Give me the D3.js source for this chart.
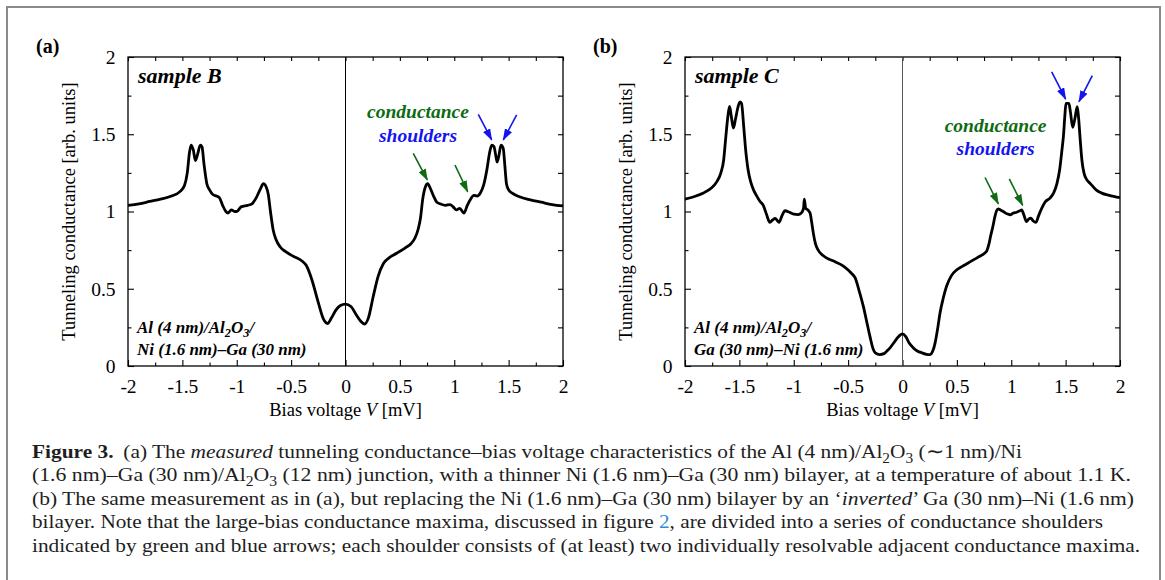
<!DOCTYPE html>
<html>
<head>
<meta charset="utf-8">
<script src="https://cdn.jsdelivr.net/npm/d3@7"></script>
<style>
  body { margin: 0; background: #fff; }
  svg text { font-family: "Liberation Serif", "Times New Roman", serif; }
</style>
</head>
<body>
<svg id="fig" width="1165" height="580"></svg>
<script>
// ---- data ----
const voltsB = [-2.00,-1.90,-1.80,-1.70,-1.60,-1.52,-1.48,-1.455,-1.435,-1.42,-1.40,-1.38,-1.36,-1.335,-1.32,-1.30,-1.275,-1.25,-1.22,-1.185,-1.16,-1.13,-1.10,-1.08,-1.05,-1.02,-1.00,-0.96,-0.90,-0.86,-0.82,-0.78,-0.755,-0.73,-0.71,-0.69,-0.665,-0.64,-0.60,-0.55,-0.48,-0.40,-0.36,-0.31,-0.25,-0.20,-0.165,-0.13,-0.09,-0.05,0.00,0.05,0.10,0.14,0.175,0.21,0.255,0.30,0.35,0.40,0.47,0.55,0.60,0.64,0.67,0.69,0.71,0.735,0.755,0.78,0.81,0.84,0.87,0.92,0.96,0.99,1.02,1.05,1.09,1.12,1.15,1.18,1.21,1.24,1.27,1.30,1.325,1.345,1.365,1.385,1.395,1.41,1.43,1.45,1.465,1.48,1.50,1.53,1.60,1.70,1.80,1.90,2.00];
const condB  = [1.04,1.05,1.065,1.08,1.10,1.13,1.17,1.25,1.38,1.43,1.40,1.33,1.37,1.43,1.42,1.30,1.18,1.14,1.11,1.10,1.09,1.04,1.00,0.99,1.01,1.00,1.00,1.03,1.04,1.05,1.09,1.15,1.18,1.16,1.11,1.00,0.88,0.82,0.77,0.74,0.71,0.68,0.65,0.56,0.41,0.30,0.275,0.31,0.36,0.39,0.40,0.385,0.33,0.29,0.272,0.31,0.45,0.58,0.665,0.70,0.73,0.765,0.79,0.83,0.89,0.96,1.08,1.16,1.18,1.15,1.10,1.06,1.05,1.04,1.045,1.03,1.01,1.02,0.99,1.04,1.08,1.105,1.10,1.12,1.17,1.27,1.38,1.43,1.42,1.35,1.32,1.36,1.43,1.41,1.30,1.18,1.14,1.12,1.095,1.075,1.06,1.045,1.036];

const voltsC = [-2.00,-1.90,-1.83,-1.76,-1.71,-1.67,-1.645,-1.625,-1.605,-1.59,-1.575,-1.555,-1.535,-1.515,-1.495,-1.48,-1.46,-1.445,-1.42,-1.395,-1.37,-1.34,-1.31,-1.28,-1.25,-1.22,-1.195,-1.17,-1.15,-1.135,-1.11,-1.08,-1.04,-1.00,-0.96,-0.93,-0.91,-0.903,-0.89,-0.87,-0.85,-0.835,-0.82,-0.80,-0.775,-0.74,-0.70,-0.62,-0.54,-0.47,-0.435,-0.40,-0.36,-0.33,-0.30,-0.27,-0.25,-0.21,-0.17,-0.145,-0.115,-0.07,-0.03,0.00,0.03,0.06,0.10,0.14,0.18,0.22,0.253,0.28,0.30,0.325,0.345,0.375,0.405,0.45,0.50,0.55,0.605,0.66,0.71,0.755,0.775,0.795,0.81,0.83,0.85,0.865,0.88,0.90,0.93,0.96,0.99,1.02,1.05,1.08,1.096,1.115,1.14,1.16,1.18,1.20,1.228,1.25,1.28,1.31,1.356,1.39,1.42,1.445,1.465,1.48,1.493,1.503,1.53,1.545,1.565,1.585,1.607,1.62,1.632,1.65,1.669,1.70,1.724,1.78,1.832,1.90,2.00];
const condC  = [1.08,1.10,1.12,1.15,1.19,1.25,1.33,1.48,1.62,1.68,1.62,1.54,1.60,1.67,1.71,1.70,1.55,1.42,1.27,1.19,1.14,1.10,1.065,1.04,0.98,0.93,0.945,0.955,0.94,0.93,0.97,1.005,0.995,0.983,0.98,0.99,1.02,1.08,1.02,1.01,0.99,0.93,0.86,0.79,0.75,0.72,0.70,0.675,0.645,0.60,0.57,0.49,0.386,0.29,0.193,0.11,0.085,0.074,0.08,0.096,0.117,0.16,0.195,0.208,0.19,0.15,0.117,0.095,0.085,0.076,0.074,0.10,0.15,0.25,0.343,0.44,0.516,0.585,0.623,0.645,0.667,0.69,0.71,0.73,0.745,0.79,0.84,0.90,0.968,1.005,1.017,1.01,0.998,0.985,0.979,0.99,0.995,1.005,1.01,0.98,0.935,0.95,0.957,0.94,0.93,0.97,1.02,1.06,1.087,1.12,1.18,1.27,1.39,1.49,1.62,1.70,1.70,1.64,1.545,1.60,1.678,1.60,1.485,1.33,1.248,1.20,1.183,1.14,1.119,1.105,1.09];

const xTicks = [-2, -1.5, -1, -0.5, 0, 0.5, 1, 1.5, 2];
const xMinor = [-1.75, -1.25, -0.75, -0.25, 0.25, 0.75, 1.25, 1.75];
const yTicks = [0, 0.5, 1, 1.5, 2];
const yMinor = [0.25, 0.75, 1.25, 1.75];

// arrows (bias, conductance) : from -> to
const arrowsB = [
  { from: [0.623, 1.377], to: [0.752, 1.204], c: "green" },
  { from: [1.007, 1.300], to: [1.124, 1.128], c: "green" },
  { from: [1.221, 1.629], to: [1.344, 1.463], c: "blue" },
  { from: [1.574, 1.625], to: [1.451, 1.463], c: "blue" }
];
const arrowsC = [
  { from: [0.759, 1.220], to: [0.881, 1.050], c: "green" },
  { from: [0.982, 1.211], to: [1.105, 1.039], c: "green" },
  { from: [1.372, 1.904], to: [1.500, 1.728], c: "blue" },
  { from: [1.745, 1.879], to: [1.623, 1.711], c: "blue" }
];

const green = "#0e6b12", blue = "#1414f0";

const svg = d3.select("#fig");

// outer frame
svg.append("rect")
  .attr("x", 7).attr("y", 7).attr("width", 1153).attr("height", 640)
  .attr("fill", "none").attr("stroke", "#8a8a8a").attr("stroke-width", 2);

const defs = svg.append("defs");
[["green", green], ["blue", blue]].forEach(([id, col]) => {
  defs.append("marker")
    .attr("id", "head-" + id)
    .attr("markerUnits", "userSpaceOnUse")
    .attr("viewBox", "0 0 12 8")
    .attr("refX", 11).attr("refY", 4)
    .attr("markerWidth", 12).attr("markerHeight", 8)
    .attr("orient", "auto")
    .append("path").attr("d", "M0,0 L12,4 L0,8 z").attr("fill", col);
});

// write segments [text, style] into a text element, handling subscript shifts
function writeRich(sel, segs, fs) {
  let shift = 0;
  segs.forEach(([t, st, dx]) => {
    const ts = sel.append("tspan").text(t);
    let want = st === "sub" ? fs * 0.25 : 0;
    if (want !== shift) { ts.attr("dy", want - shift); shift = want; }
    if (dx) ts.attr("dx", dx);
    if (st === "sub") ts.attr("font-size", fs * 0.72);
    if (st === "b") ts.attr("font-weight", "bold");
    if (st === "i") ts.attr("font-style", "italic");
    if (st === "link") ts.attr("fill", "#2b8fd8");
  });
}

const panels = [
  { tag: "(a)", sample: "sample B", left: 128, volts: voltsB, cond: condB, arrows: arrowsB,
    words: { x: 0.667, y1: 1.603, y2: 1.452 }, zero: "#000",
    layer: [[["Al (4 nm)/Al"], ["2", "sub"], ["O"], ["3", "sub"], ["/"]],
            [["Ni (1.6 nm)–Ga (30 nm)"]]] },
  { tag: "(b)", sample: "sample C", left: 685, volts: voltsC, cond: condC, arrows: arrowsC,
    words: { x: 0.856, y1: 1.517, y2: 1.366 }, zero: "#555",
    layer: [[["Al (4 nm)/Al"], ["2", "sub"], ["O"], ["3", "sub"], ["/"]],
            [["Ga (30 nm)–Ni (1.6 nm)"]]] }
];

panels.forEach(p => {
  const x = d3.scaleLinear().domain([-2, 2]).range([p.left, p.left + 435]);
  const y = d3.scaleLinear().domain([0, 2]).range([366, 57]);
  const g = svg.append("g");
  const fmt = d => String(d);

  const styleAxis = a => {
    a.select(".domain").remove();
    a.selectAll("line").attr("stroke", "#000").attr("stroke-width", 1.1);
    a.selectAll("text").attr("font-family", "Liberation Serif").attr("font-size", 19.5).attr("fill", "#000");
  };

  g.append("g").attr("transform", "translate(0,366)")
    .call(d3.axisBottom(x).tickValues(xTicks).tickFormat(fmt).tickSizeInner(-6).tickSizeOuter(0).tickPadding(13.5)).call(styleAxis);
  g.append("g").attr("transform", "translate(0,366)")
    .call(d3.axisBottom(x).tickValues(xMinor).tickFormat("").tickSize(-3.5)).call(styleAxis);
  g.append("g").attr("transform", "translate(0,57)")
    .call(d3.axisTop(x).tickValues(xTicks.concat(xMinor)).tickFormat("").tickSize(-4)).call(styleAxis);
  g.append("g").attr("transform", `translate(${p.left},0)`)
    .call(d3.axisLeft(y).tickValues(yTicks).tickFormat(fmt).tickSizeInner(-6).tickSizeOuter(0).tickPadding(12.5)).call(styleAxis);
  g.append("g").attr("transform", `translate(${p.left},0)`)
    .call(d3.axisLeft(y).tickValues(yMinor).tickFormat("").tickSize(-3.5)).call(styleAxis);
  g.append("g").attr("transform", `translate(${p.left + 435},0)`)
    .call(d3.axisRight(y).tickValues(yTicks.concat(yMinor)).tickFormat("").tickSize(-5)).call(styleAxis);

  // plot box
  g.append("rect")
    .attr("x", x(-2)).attr("y", y(2)).attr("width", x(2) - x(-2)).attr("height", y(0) - y(2))
    .attr("fill", "none").attr("stroke", "#000").attr("stroke-width", 1.3);

  // zero-bias line
  g.append("line")
    .attr("x1", x(0)).attr("x2", x(0)).attr("y1", y(0)).attr("y2", y(2))
    .attr("stroke", p.zero).attr("stroke-width", 1);

  // curve
  const line = d3.line().x(d => x(d[0])).y(d => y(d[1])).curve(d3.curveMonotoneX);
  g.append("path")
    .datum(d3.zip(p.volts, p.cond))
    .attr("d", line)
    .attr("fill", "none").attr("stroke", "#000").attr("stroke-width", 2.8)
    .attr("stroke-linejoin", "round");

  // arrows
  g.selectAll(".arr").data(p.arrows).join("line")
    .attr("x1", d => x(d.from[0])).attr("y1", d => y(d.from[1]))
    .attr("x2", d => x(d.to[0])).attr("y2", d => y(d.to[1]))
    .attr("stroke", d => d.c === "green" ? green : blue)
    .attr("stroke-width", 1.6)
    .attr("marker-end", d => `url(#head-${d.c})`);

  g.append("text").attr("x", x(p.words.x)).attr("y", y(p.words.y1))
    .attr("text-anchor", "middle").attr("font-size", 19.5).attr("font-weight", "bold").attr("font-style", "italic")
    .attr("fill", green).text("conductance");
  g.append("text").attr("x", x(p.words.x)).attr("y", y(p.words.y2))
    .attr("text-anchor", "middle").attr("font-size", 19.5).attr("font-weight", "bold").attr("font-style", "italic")
    .attr("fill", blue).text("shoulders");

  // sample name
  g.append("text").attr("x", p.left + 10).attr("y", 83)
    .attr("font-size", 22).attr("font-weight", "bold").attr("font-style", "italic").text(p.sample);

  // layer stack label
  p.layer.forEach((segs, i) => {
    const t = g.append("text").attr("x", p.left + 9).attr("y", 333 + i * 22)
      .attr("font-size", 17).attr("font-weight", "bold").attr("font-style", "italic");
    writeRich(t, segs, 17);
  });

  // panel tag
  g.append("text").attr("x", p.left - 92).attr("y", 53)
    .attr("font-size", 20).attr("font-weight", "bold").text(p.tag);

  // axis titles
  g.append("text")
    .attr("transform", `translate(${p.left - 53},${(y(0) + y(2)) / 2}) rotate(-90)`)
    .attr("text-anchor", "middle").attr("font-size", 18.5)
    .text("Tunneling conductance [arb. units]");
  const xt = g.append("text").attr("x", x(0)).attr("y", 416)
    .attr("text-anchor", "middle").attr("font-size", 18.5);
  writeRich(xt, [["Bias voltage "], ["V", "i"], [" [mV]"]], 18.5);
});

// caption (line widths matched to the printed figure)
const captionLines = [
  [["Figure 3.", "b"], ["(a) The ", "", 9], ["measured", "i"], [" tunneling conductance–bias voltage characteristics of the Al (4 nm)/Al"], ["2", "sub"], ["O"], ["3", "sub"], [" (∼1 nm)/Ni"]],
  [["(1.6 nm)–Ga (30 nm)/Al"], ["2", "sub"], ["O"], ["3", "sub"], [" (12 nm) junction, with a thinner Ni (1.6 nm)–Ga (30 nm) bilayer, at a temperature of about 1.1 K."]],
  [["(b) The same measurement as in (a), but replacing the Ni (1.6 nm)–Ga (30 nm) bilayer by an ‘"], ["inverted", "i"], ["’ Ga (30 nm)–Ni (1.6 nm)"]],
  [["bilayer. Note that the large-bias conductance maxima, discussed in figure "], ["2", "link"], [", are divided into a series of conductance shoulders"]],
  [["indicated by green and blue arrows; each shoulder consists of (at least) two individually resolvable adjacent conductance maxima."]]
];
const captionWidths = [990, 1099, 1102, 1071, 1108];
captionLines.forEach((segs, i) => {
  const t = svg.append("text").attr("x", 32).attr("y", 458 + i * 23.4)
    .attr("font-size", 19.5).attr("fill", "#1e1e1e")
    .attr("textLength", captionWidths[i]).attr("lengthAdjust", "spacingAndGlyphs");
  writeRich(t, segs, 19.5);
});
</script>
</body>
</html>
